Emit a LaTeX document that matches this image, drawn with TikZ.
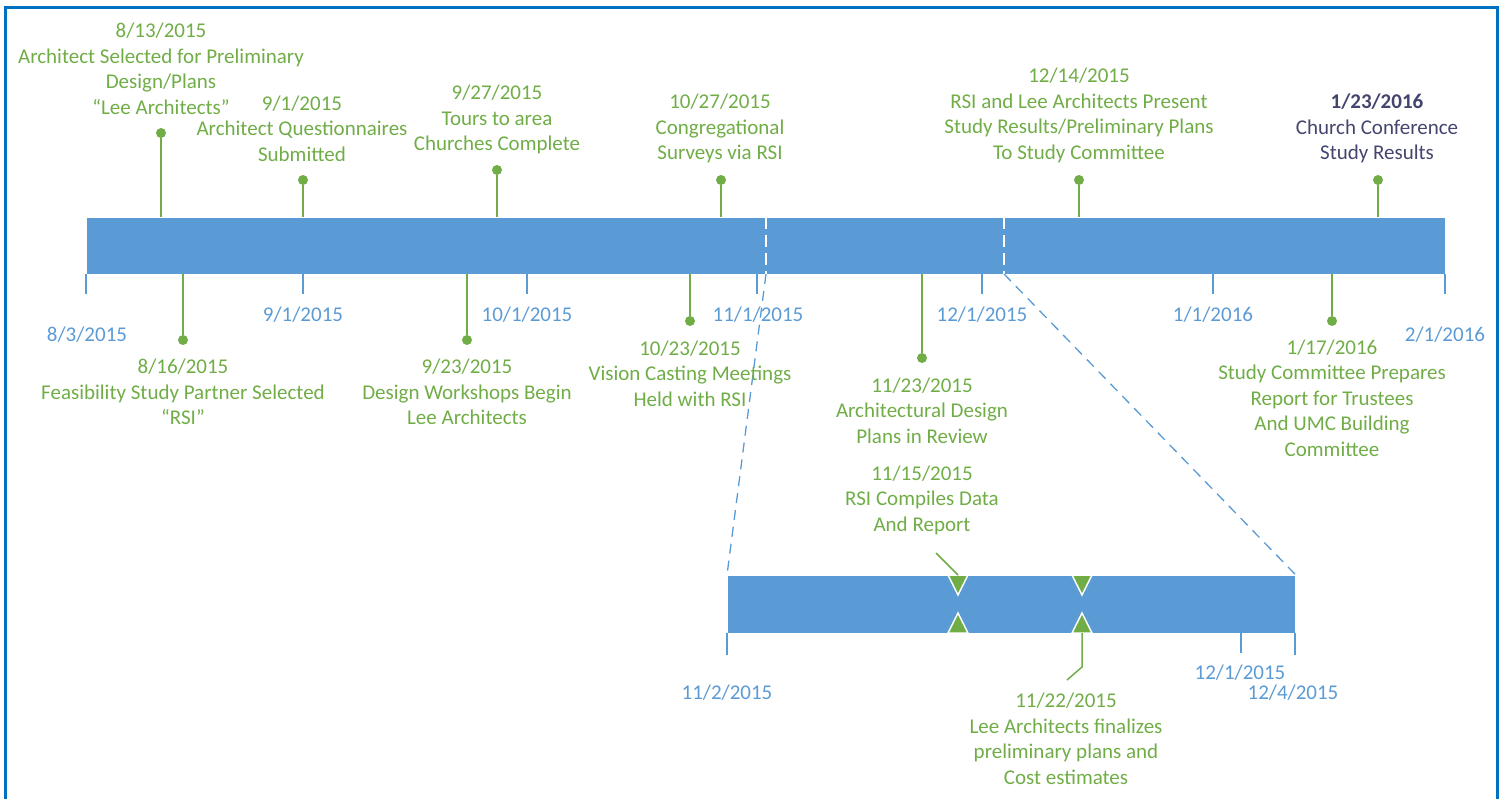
\documentclass[tikz,border=0pt]{standalone}
\usepackage{fontspec}
\setmainfont{Carlito}
\definecolor{barblue}{HTML}{5B9BD5}
\definecolor{evgreen}{HTML}{70AD47}
\definecolor{frameblue}{HTML}{0070C0}
\definecolor{purp}{HTML}{44456E}
\tikzset{
  every node/.style={font=\fontsize{21}{25.5}\selectfont, inner sep=0pt},
  bar/.style={fill=barblue, draw=white, line width=0.8pt},
  stem/.style={draw=evgreen, line width=2pt},
  evdot/.style={circle, fill=evgreen, minimum size=10pt},
  evtext/.style={text=evgreen, align=center},
  tick/.style={draw=barblue, line width=1.6pt},
  ticklabel/.style={text=barblue},
  zoomline/.style={draw=barblue, line width=1.3pt, dash pattern=on 10pt off 7pt},
  whitedash/.style={draw=white, line width=1.8pt, dash pattern=on 12pt off 6pt},
  tri/.style={fill=evgreen, draw=white, line width=1.5pt, line join=miter},
}
\begin{document}
\begin{tikzpicture}[x=1pt,y=-1pt]
\useasboundingbox (0,0) rectangle (1505,799);
% frame
\draw[frameblue, line width=3pt] (5.5,8) rectangle (1497.5,830);

% main bar
\node[bar, minimum width=1359pt, minimum height=57pt, anchor=north west] (bar) at (86,217) {};

% ticks
\foreach \n/\x in {t0/86,t1/303,t2/527,t3/757,t4/982,t5/1213,t6/1445}{
  \coordinate (\n a) at (\x,274);
  \coordinate (\n b) at (\x,294);
  \draw[tick] (\n a) -- (\n b);
}
\node[ticklabel] (l0) at (87,335) {8/3/2015};
\node[ticklabel] (l1) at (303,315) {9/1/2015};
\node[ticklabel] (l2) at (527,315) {10/1/2015};
\node[ticklabel] (l3) at (758,315) {11/1/2015};
\node[ticklabel] (l4) at (982,315) {12/1/2015};
\node[ticklabel] (l5) at (1213,315) {1/1/2016};
\node[ticklabel] (l6) at (1445,335) {2/1/2016};

% zoom region markers
\coordinate (za) at (766,217);
\coordinate (zb) at (766,274);
\coordinate (zc) at (1004,217);
\coordinate (zd) at (1004,274);
\draw[whitedash] (za) -- (zb);
\draw[whitedash] (zc) -- (zd);

% zoom bar
\node[bar, minimum width=568pt, minimum height=58pt, anchor=north west] (zbar) at (727,575) {};
\draw[zoomline] (zb) -- (zbar.north west);
\draw[zoomline] (zd) -- (zbar.north east);
\coordinate (zt0a) at (727,633); \coordinate (zt0b) at (727,655);
\coordinate (zt1a) at (1241,633); \coordinate (zt1b) at (1241,653);
\coordinate (zt2a) at (1295,633); \coordinate (zt2b) at (1295,655);
\draw[tick] (zt0a) -- (zt0b);
\draw[tick] (zt1a) -- (zt1b);
\draw[tick] (zt2a) -- (zt2b);
\node[ticklabel] (zl0) at (727,693) {11/2/2015};
\node[ticklabel] (zl1) at (1240,673) {12/1/2015};
\node[ticklabel] (zl2) at (1293,693) {12/4/2015};

% events above
\foreach \n/\x/\y in {a1/161/133,a2/303/180,a3/497/170,a4/721/180,a5/1079/180,a6/1378/180}{
  \coordinate (\n b) at (\x,217);
  \node[evdot] (\n d) at (\x,\y) {};
  \draw[stem] (\n b) -- (\n d);
}
\node[evtext] (a1t) at (161,69) {8/13/2015\\Architect Selected for Preliminary\\Design/Plans\\“Lee Architects”};
\node[evtext] (a2t) at (302,128.5) {9/1/2015\\Architect Questionnaires\\Submitted};
\node[evtext] (a3t) at (497,119.5) {9/27/2015\\Tours to area\\Churches Complete};
\node[evtext] (a4t) at (720,128.5) {10/27/2015\\Congregational\\Surveys via RSI};
\node[evtext] (a5t) at (1079,115.5) {12/14/2015\\RSI and Lee Architects Present\\Study Results/Preliminary Plans\\To Study Committee};
\node[text=purp, align=center] (a6t) at (1377,128.5) {\textbf{1/23/2016}\\Church Conference\\Study Results};

% events below
\foreach \n/\x/\y in {b1/183/340,b2/467/340,b3/690/321,b4/922/358,b5/1332/321}{
  \coordinate (\n b) at (\x,274);
  \node[evdot] (\n d) at (\x,\y) {};
  \draw[stem] (\n b) -- (\n d);
}
\node[evtext] (b1t) at (183,392) {8/16/2015\\Feasibility Study Partner Selected\\“RSI”};
\node[evtext] (b2t) at (467,392) {9/23/2015\\Design Workshops Begin\\Lee Architects};
\node[evtext] (b3t) at (690,373.5) {10/23/2015\\Vision Casting Meetings\\Held with RSI};
\node[evtext] (b4t) at (922,410.5) {11/23/2015\\Architectural Design\\Plans in Review};
\node[evtext] (b5t) at (1332,398) {1/17/2016\\Study Committee Prepares\\Report for Trustees\\And UMC Building\\Committee};

% zoom markers (triangles)
\foreach \n/\x in {m1/958,m2/1082}{
  \fill[tri] (\x-10,575) -- (\x+10,575) -- (\x,595) -- cycle;
  \fill[tri] (\x-10,633) -- (\x+10,633) -- (\x,613) -- cycle;
  \coordinate (\n top) at (\x,575);
  \coordinate (\n bot) at (\x,633);
}
\node[evtext] (z1t) at (922,500) {11/15/2015\\RSI Compiles Data\\And Report};
\coordinate (z1c) at (936,553);
\draw[stem, line width=1.5pt] (m1top) -- (z1c);
\node[evtext] (z2t) at (1066,739) {11/22/2015\\Lee Architects finalizes\\preliminary plans and\\Cost estimates};
\coordinate (z2k) at (1082,667);
\coordinate (z2c) at (1067,680);
\draw[stem, line width=1.5pt] (m2bot) -- (z2k) -- (z2c);
\end{tikzpicture}
\end{document}
